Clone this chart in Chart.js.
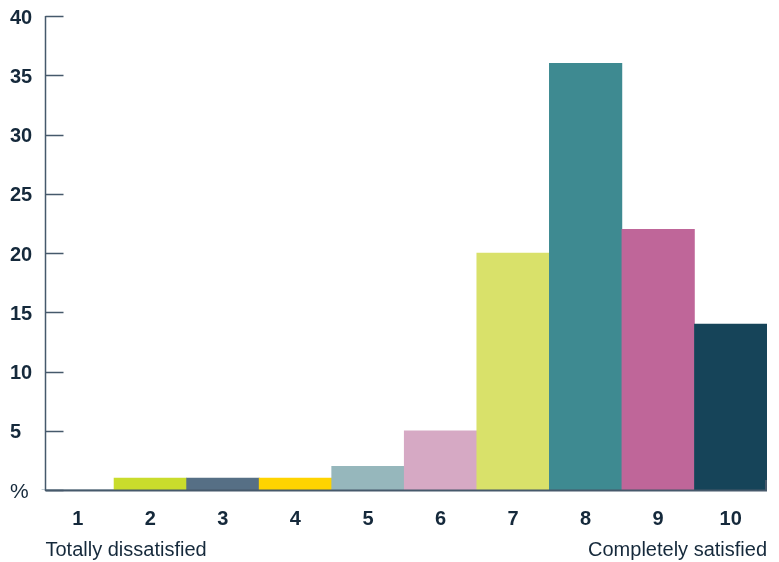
<!DOCTYPE html>
<html>
<head>
<meta charset="utf-8">
<script src="https://cdn.jsdelivr.net/npm/chart.js@4/dist/chart.umd.min.js"></script>
<style>
  html, body { margin: 0; padding: 0; background: #fff; }
  #wrap { width: 779px; height: 562px; position: relative; }
</style>
</head>
<body>
<div id="wrap"><canvas id="satChart"></canvas></div>
<script>
// Data
const scores = ["1", "2", "3", "4", "5", "6", "7", "8", "9", "10"];
const percents = [0, 1, 1, 1, 2, 5, 20, 36, 22, 14];
const barColors = [
  "#15435a", "#c9dc2c", "#566f85", "#ffd400", "#96b7bc",
  "#d6a9c4", "#d9e16a", "#3e8a91", "#bf6699", "#164459",
];
const yTicks = [0, 5, 10, 15, 20, 25, 30, 35, 40];
const leftNote = "Totally dissatisfied";
const rightNote = "Completely satisfied";

const inkColor = "#15293b";
const axisColor = "#46596b";
const fontFamily = "'Liberation Sans', Arial, sans-serif";

// y axis sits a little inside the first bar, with short ticks pointing inward
const yAxisPlugin = {
  id: "yAxisPlugin",
  afterDatasetsDraw(chart) {
    const ctx = chart.ctx;
    const area = chart.chartArea;
    const y = chart.scales.y;
    const axisX = area.left + 4;
    ctx.save();
    ctx.strokeStyle = axisColor;
    ctx.lineWidth = 1.5;
    ctx.beginPath();
    ctx.moveTo(axisX, y.getPixelForValue(40));
    ctx.lineTo(axisX, y.getPixelForValue(0) + 1);
    yTicks.forEach((v) => {
      const py = Math.round(y.getPixelForValue(v)) + 0.5;
      ctx.moveTo(axisX, py);
      ctx.lineTo(axisX + 18, py);
    });
    ctx.stroke();
    // bottom axis line, drawn over the bars
    ctx.lineWidth = 2;
    ctx.beginPath();
    ctx.moveTo(axisX, area.bottom + 0.5);
    ctx.lineTo(area.right, area.bottom + 0.5);
    ctx.moveTo(area.right - 1, area.bottom);
    ctx.lineTo(area.right - 1, area.bottom - 10);
    ctx.stroke();
    ctx.restore();
  },
};

// scale end notes under the category labels
const notesPlugin = {
  id: "notesPlugin",
  afterDraw(chart) {
    const ctx = chart.ctx;
    const area = chart.chartArea;
    ctx.save();
    ctx.fillStyle = inkColor;
    ctx.font = "20px " + fontFamily;
    ctx.textBaseline = "middle";
    ctx.textAlign = "left";
    ctx.fillText(leftNote, area.left + 4, area.bottom + 60);
    ctx.textAlign = "right";
    ctx.fillText(rightNote, area.right, area.bottom + 60);
    ctx.restore();
  },
};

const ctx = document.getElementById("satChart").getContext("2d");

new Chart(ctx, {
  type: "bar",
  data: {
    labels: scores,
    datasets: [
      {
        data: percents,
        backgroundColor: barColors,
        borderWidth: 0,
        categoryPercentage: 1.0,
        barPercentage: 1.0,
      },
    ],
  },
  options: {
    responsive: true,
    maintainAspectRatio: false,
    animation: false,
    layout: { padding: { top: 16, left: 10, right: 12, bottom: 0 } },
    plugins: {
      legend: { display: false },
      tooltip: { enabled: false },
    },
    scales: {
      x: {
        grid: { display: false },
        border: { display: false },
        ticks: {
          color: inkColor,
          padding: 9,
          font: { family: fontFamily, size: 20, weight: "bold" },
        },
        afterFit(scale) {
          scale.height = 72;
        },
      },
      y: {
        min: 0,
        max: 40,
        grid: { display: false },
        border: { display: false },
        afterBuildTicks(scale) {
          scale.ticks = yTicks.map((v) => ({ value: v }));
        },
        afterFit(scale) {
          scale.width = 31.5;
        },
        ticks: {
          color: inkColor,
          padding: 0,
          crossAlign: "far",
          labelOffset: 2,
          callback: (v) => (v === 0 ? "%" : v),
          font: (c) =>
            c.tick && c.tick.value === 0
              ? { family: fontFamily, size: 21, weight: "normal" }
              : { family: fontFamily, size: 20, weight: "bold" },
        },
      },
    },
  },
  plugins: [yAxisPlugin, notesPlugin],
});
</script>
</body>
</html>
